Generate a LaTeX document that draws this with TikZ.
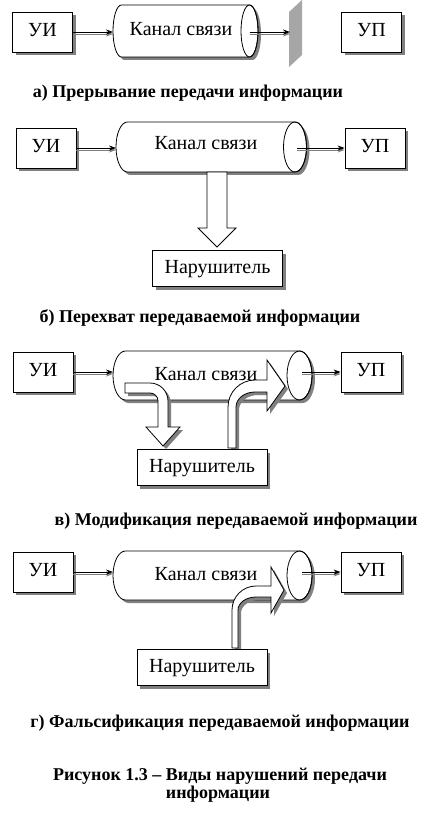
\documentclass[tikz,border=0pt]{standalone}
\usepackage{fontspec}
\setmainfont{Liberation Serif}
\usetikzlibrary{arrows.meta,shadows}
\definecolor{shc}{HTML}{808080}
\definecolor{wallc}{HTML}{A6A6A6}
\tikzset{
  x=1pt,y=1pt,
  box/.style={draw,fill=white,line width=0.8pt,inner sep=0pt,
    minimum width=60pt,minimum height=40pt,
    font=\fontsize{20}{20}\selectfont,text height=14pt,text depth=4.5pt,
    drop shadow={shadow xshift=3pt,shadow yshift=-3pt,fill=shc,opacity=1}},
  wide/.style={box,minimum width=130pt,minimum height=36pt},
  lbl/.style={font=\fontsize{20}{20}\selectfont,inner sep=0pt,anchor=base},
  captxt/.style={font=\bfseries\fontsize{18}{18}\selectfont,inner sep=0pt,anchor=base},
  sh/.style={preaction={fill=shc,transform canvas={xshift=3pt,yshift=-3pt}}},
  blk/.style={draw,fill=white,line width=0.8pt,line join=miter},
  conn/.style={line width=0.8pt,-{Stealth[length=7pt,width=5pt]}},
  connsh/.style={conn,shc}
}
\newcommand\mycyl[5]{%
  \draw[blk,sh] (#2,-#3) -- ({#1+#5},-#3)
    arc[start angle=90,end angle=270,x radius=#5,y radius={(#4-#3)/2}]
    -- (#2,-#4)
    arc[start angle=-90,end angle=90,x radius=#5,y radius={(#4-#3)/2}] -- cycle;
  \draw[line width=0.8pt] (#2,{-(#3+#4)/2}) ellipse[x radius=#5,y radius={(#4-#3)/2}];
}
\newcommand\myconn[2]{%
  \draw[connsh] ([yshift=-2pt]#1) -- ([yshift=-2pt]#2);
  \draw[conn] (#1) -- (#2);
}
\begin{document}
\begin{tikzpicture}
\useasboundingbox[fill=white] (0,0) rectangle (441,-813);

% ---------- a ----------
\node[box] (ui1) at (42.5,-32) {УИ};
\node[box] (up1) at (371.5,-32) {УП};
\mycyl{113}{249.5}{5}{57}{8.5}
\node[lbl] (k1) at (181,-36) {Канал связи};
\fill[wallc] (289,-12) -- (302,0) -- (302,-55) -- (289,-67) -- cycle;
\coordinate (c1L) at (113,-32);
\coordinate (c1R) at (249.5,-32);
\coordinate (wall) at (290,-32);
\myconn{ui1.east}{c1L}
\myconn{c1R}{wall}
\node[captxt] (capa) at (188,-98) {а) Прерывание передачи информации};

% ---------- b ----------
\node[box] (ui2) at (46,-148) {УИ};
\node[box] (up2) at (375,-148) {УП};
\mycyl{116}{295}{122}{172}{11.5}
\node[lbl] (k2) at (206,-150) {Канал связи};
\coordinate (c2L) at (116,-148);
\coordinate (c2R) at (297,-148);
\myconn{ui2.east}{c2L}
\myconn{c2R}{up2.west}
\draw[blk] (207,-172) -- (227,-172) -- (227,-228) -- (236,-228) -- (217,-247)
  -- (198,-228) -- (207,-228) -- cycle;
\node[wide] (n2) at (217.5,-268.5) {Нарушитель};
\node[captxt] (capb) at (200,-322) {б) Перехват передаваемой информации};

% ---------- c ----------
\node[box] (ui3) at (43,-372) {УИ};
\node[box] (up3) at (371,-372) {УП};
\mycyl{113}{299.5}{351}{400}{12.5}
\node[lbl] (k3) at (206,-380) {Канал связи};
\coordinate (c3L) at (113,-372);
\coordinate (c3R) at (302,-372);
\myconn{ui3.east}{c3L}
\myconn{c3R}{up3.west}
\draw[blk,sh] (125,-383) -- (150,-383) arc[start angle=90,end angle=0,radius=18]
  -- (168,-427) -- (180,-427) -- (163,-446) -- (146,-427) -- (158,-427) -- (158,-401)
  arc[start angle=0,end angle=90,radius=8] -- (125,-393) -- cycle;
\draw[blk,sh] (228,-448) -- (228,-407) arc[start angle=180,end angle=90,radius=27]
  -- (267,-380) -- (267,-360) -- (285,-386) -- (267,-411) -- (267,-392) -- (255,-392)
  arc[start angle=90,end angle=180,x radius=19,y radius=15] -- (236,-448) -- cycle;
\node[wide] (n3) at (202,-467.5) {Нарушитель};
\node[captxt] (capc) at (236,-525) {в) Модификация передаваемой информации};

% ---------- d ----------
\node[box] (ui4) at (43,-572) {УИ};
\node[box] (up4) at (371,-572) {УП};
\mycyl{113}{299.5}{551}{600}{12.5}
\node[lbl] (k4) at (206,-580) {Канал связи};
\coordinate (c4L) at (113,-572);
\coordinate (c4R) at (302,-572);
\myconn{ui4.east}{c4L}
\myconn{c4R}{up4.west}
\draw[blk,sh] (232,-648) -- (232,-610) arc[start angle=180,end angle=90,radius=24]
  -- (271,-586) -- (271,-567) -- (284,-590) -- (271,-613) -- (271,-597) -- (256,-597)
  arc[start angle=90,end angle=180,x radius=18,y radius=13] -- (238,-648) -- cycle;
\node[wide] (n4) at (202,-667.5) {Нарушитель};
\node[captxt] (capd) at (220,-727) {г) Фальсификация передаваемой информации};

% ---------- figure caption ----------
\node[captxt] (fig1) at (220,-780) {Рисунок 1.3 – Виды нарушений передачи};
\node[captxt] (fig2) at (218,-798) {информации};
\end{tikzpicture}
\end{document}
